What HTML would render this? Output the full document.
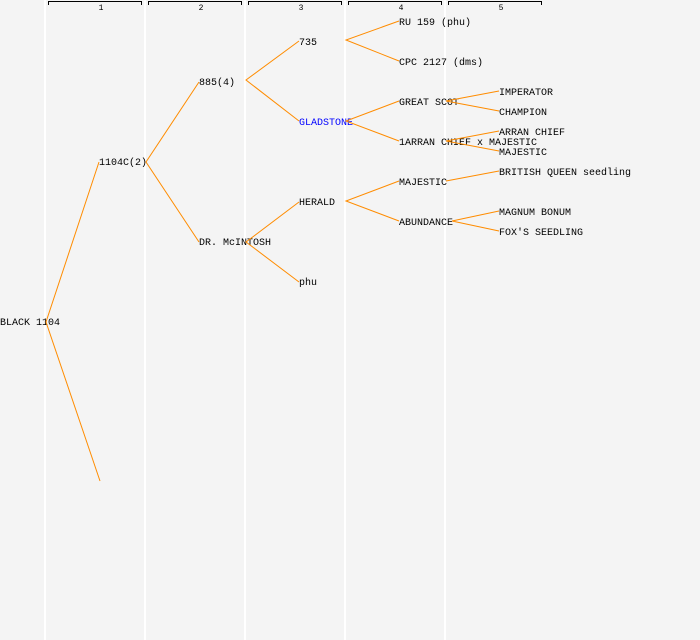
<!DOCTYPE html>
<html><head><style>
html,body{margin:0;padding:0;background:#f4f4f4;}
svg{display:block;}
text{font-family:"Liberation Mono","DejaVu Sans Mono",monospace;font-size:10px;fill:#000;}
</style></head><body>
<svg width="700" height="640" viewBox="0 0 700 640" xmlns="http://www.w3.org/2000/svg">
<rect width="700" height="640" fill="#f4f4f4"/>
<g stroke="#ffffff" stroke-width="2">
<line x1="45" y1="0" x2="45" y2="640"/>
<line x1="145" y1="0" x2="145" y2="640"/>
<line x1="245" y1="0" x2="245" y2="640"/>
<line x1="345" y1="0" x2="345" y2="640"/>
<line x1="445" y1="0" x2="445" y2="640"/>
</g>
<g stroke="#000" stroke-width="1" fill="none">
<path d="M48.5 5V1.5H141.5V5"/>
<path d="M148.5 5V1.5H241.5V5"/>
<path d="M248.5 5V1.5H341.5V5"/>
<path d="M348.5 5V1.5H441.5V5"/>
<path d="M448.5 5V1.5H541.5V5"/>
</g>
<g text-anchor="middle">
<text x="101" y="10" style="font-size:8px">1</text>
<text x="201" y="10" style="font-size:8px">2</text>
<text x="301" y="10" style="font-size:8px">3</text>
<text x="401" y="10" style="font-size:8px">4</text>
<text x="501" y="10" style="font-size:8px">5</text>
</g>
<g transform="translate(0,-1)">
<text x="0" y="326">BLACK 1104</text>
<text x="99" y="166">1104C(2)</text>
<text x="199" y="86">885(4)</text>
<text x="199" y="246">DR. McINTOSH</text>
<text x="299" y="46">735</text>
<text x="299" y="126" style="fill:#0000ff">GLADSTONE</text>
<text x="299" y="206">HERALD</text>
<text x="299" y="286">phu</text>
<text x="399" y="26">RU 159 (phu)</text>
<text x="399" y="66">CPC 2127 (dms)</text>
<text x="399" y="106">GREAT SCOT</text>
<text x="399" y="146">1ARRAN CHIEF x MAJESTIC</text>
<text x="399" y="186">MAJESTIC</text>
<text x="399" y="226">ABUNDANCE</text>
<text x="499" y="96">IMPERATOR</text>
<text x="499" y="116">CHAMPION</text>
<text x="499" y="136">ARRAN CHIEF</text>
<text x="499" y="156">MAJESTIC</text>
<text x="499" y="176">BRITISH QUEEN seedling</text>
<text x="499" y="216">MAGNUM BONUM</text>
<text x="499" y="236">FOX'S SEEDLING</text>
</g>
<g stroke="#ff8c00" stroke-width="1" fill="none">
<path d="M99 162L46 322L100 481"/>
<path d="M199 82L146 162L199 242"/>
<path d="M299 41L246 80L299 121"/>
<path d="M299 202L246 242L299 282"/>
<path d="M399 21L346 40L399 61"/>
<path d="M399 101L346 121L399 141"/>
<path d="M399 181L346 201L399 221"/>
<path d="M499 91L446 101L499 111"/>
<path d="M499 131L446 141L499 151"/>
<path d="M499 171L446 181"/>
<path d="M499 211L452 221L499 231"/>
</g>
</svg>
</body></html>
